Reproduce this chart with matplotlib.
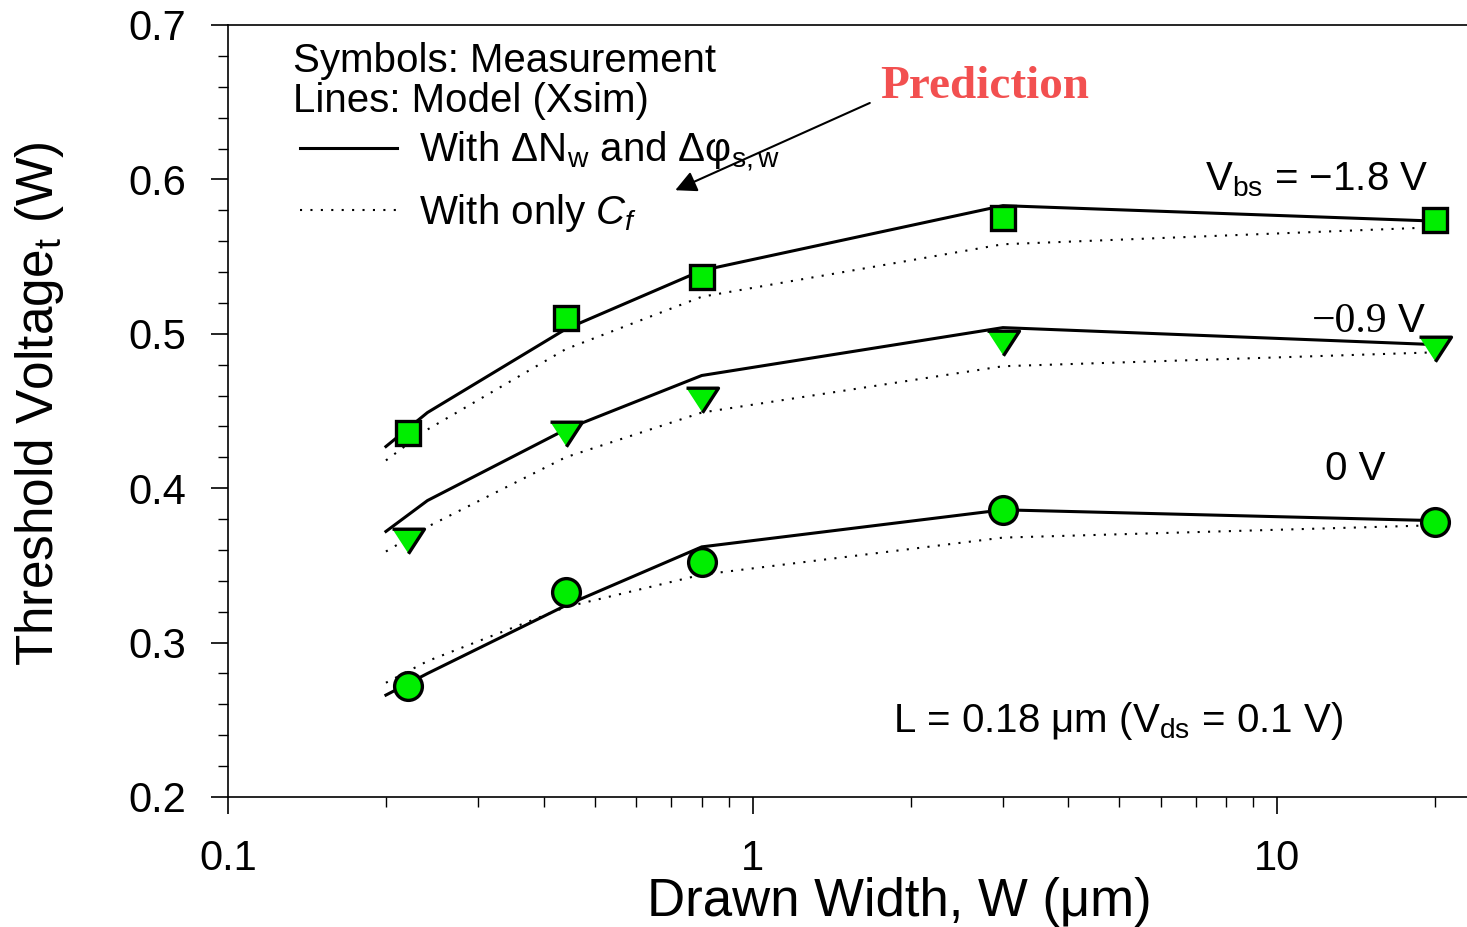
import matplotlib
matplotlib.use('Agg')
import matplotlib.pyplot as plt
from matplotlib.lines import Line2D
from matplotlib.ticker import MultipleLocator, FixedLocator, NullFormatter

plt.rcParams['font.family'] = ['Liberation Sans', 'DejaVu Sans']
plt.rcParams['mathtext.fontset'] = 'custom'
plt.rcParams['mathtext.rm'] = 'Liberation Sans'
plt.rcParams['mathtext.it'] = 'Liberation Sans:italic'
plt.rcParams['mathtext.bf'] = 'Liberation Sans:bold'

# measured points (symbols)
w_meas = [0.22, 0.44, 0.8, 3, 20]
vt_meas_18 = [0.436, 0.510, 0.537, 0.575, 0.574]
vt_meas_09 = [0.366, 0.435, 0.457, 0.494, 0.490]
vt_meas_0 = [0.272, 0.333, 0.352, 0.386, 0.378]

# model (Xsim) curves
w_model = [0.2, 0.24, 0.44, 0.8, 3, 20]
# with dNw and dphi_s,w (solid)
vt_full_18 = [0.427, 0.449, 0.503, 0.541, 0.583, 0.573]
vt_full_09 = [0.372, 0.392, 0.438, 0.473, 0.504, 0.493]
vt_full_0 = [0.266, 0.280, 0.324, 0.362, 0.386, 0.379]
# with only Cf (dotted)
vt_cf_18 = [0.418, 0.438, 0.490, 0.524, 0.558, 0.569]
vt_cf_09 = [0.359, 0.375, 0.420, 0.449, 0.479, 0.488]
vt_cf_0 = [0.274, 0.288, 0.323, 0.344, 0.368, 0.376]

green = '#00ee00'
tri = [(-1, 0.77), (1, 0.77), (0, -0.77)]

fig = plt.figure(figsize=(14.67, 9.27), dpi=100)
ax = fig.add_axes([228 / 1467, 130 / 927, 1239 / 1467, 772 / 927])
T = ax.transAxes

dots = (0, (1, 4))
for vf, vc in [(vt_full_18, vt_cf_18), (vt_full_09, vt_cf_09), (vt_full_0, vt_cf_0)]:
    ax.plot(w_model, vf, color='black', lw=2.2)
    ax.plot(w_model, vc, color='black', lw=1.5, linestyle=dots)

ax.plot(w_meas, vt_meas_18, 's', ms=17.5, mfc=green, mec='black', mew=2.4, ls='none')
ax.plot(w_meas, vt_meas_09, marker=tri, ms=23, mfc=green, mec='black', mew=2.4, ls='none')
ax.plot(w_meas, vt_meas_0, 'o', ms=20, mfc=green, mec='black', mew=2.4, ls='none')

ax.set_xscale('log')
ax.set_xlim(0.1, 23.0)
ax.set_ylim(0.2, 0.7)
ax.yaxis.set_major_locator(MultipleLocator(0.1))
ax.yaxis.set_minor_locator(MultipleLocator(0.02))
ax.set_yticklabels(['%.1f' % v for v in ax.get_yticks()])
ax.xaxis.set_major_locator(FixedLocator([0.1, 1, 10]))
ax.set_xticklabels(['0.1', '1', '10'])
minor_x = [m * d for d in (0.1, 1, 10) for m in range(2, 10)]
ax.xaxis.set_minor_locator(FixedLocator(minor_x))
ax.xaxis.set_minor_formatter(NullFormatter())

ax.tick_params(which='major', direction='out', length=12, width=1.2, labelsize=30, pad=18)
ax.tick_params(which='minor', direction='out', length=7, width=1.0)
ax.spines['right'].set_visible(False)
for s in ['left', 'bottom', 'top']:
    ax.spines[s].set_linewidth(1.2)

ax.set_xlabel('Drawn Width, W (\u03bcm)', fontsize=38)
ax.xaxis.set_label_coords(0.542, -0.104)
ax.set_ylabel('Threshold Voltage$_\\mathrm{t}$ (W)', fontsize=37)
ax.yaxis.set_label_coords(-0.131, 0.51)

# legend block
fs = 29
ax.text(0.0525, 0.939, 'Symbols: Measurement', fontsize=fs, va='baseline', transform=T)
ax.text(0.0525, 0.887, 'Lines: Model (Xsim)', fontsize=fs, va='baseline', transform=T)
handles = [Line2D([], [], color='black', lw=2.2),
           Line2D([], [], color='black', lw=1.5, linestyle=dots)]
labels = ['With \u0394N$_\\mathrm{w}$ and \u0394\u03c6$_\\mathrm{s,w}$',
          'With only $C_f$']
ax.legend(handles, labels, loc='upper left', bbox_to_anchor=(0.045, 0.885),
          frameon=False, fontsize=fs, handlelength=2.4, handletextpad=0.55,
          labelspacing=0.45, borderaxespad=0)

# prediction arrow
ax.text(0.611, 0.905, 'Prediction', fontsize=34, fontweight='bold',
        family='Liberation Serif', color='#f25050', ha='center', va='baseline',
        transform=T)
ax.annotate('', xy=(0.361, 0.786), xytext=(0.518, 0.899),
            xycoords='axes fraction', textcoords='axes fraction',
            arrowprops=dict(arrowstyle='-|>', mutation_scale=32, lw=1.5, color='black',
                            shrinkA=0, shrinkB=0))

# curve labels
ax.text(0.9685, 0.786, 'V$_\\mathrm{bs}$ = \u22121.8 V', fontsize=fs, ha='right',
        va='baseline', transform=T)
ax.text(0.966, 0.602, 'V', fontsize=fs, ha='right', va='baseline', transform=T)
ax.text(0.936, 0.602, '\u22120.9', fontsize=30, family='Liberation Serif', ha='right',
        va='baseline', transform=T)
ax.text(0.9346, 0.411, '0 V', fontsize=fs, ha='right', va='baseline', transform=T)
ax.text(0.537, 0.084, 'L = 0.18 \u03bcm (V$_\\mathrm{ds}$ = 0.1 V)', fontsize=fs,
        va='baseline', transform=T)

fig.savefig('out.png', dpi=100)
